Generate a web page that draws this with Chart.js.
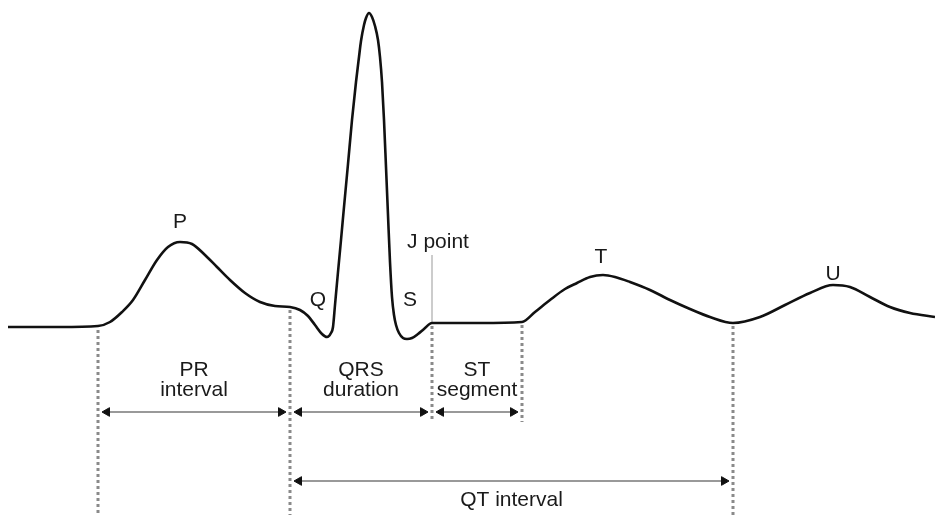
<!DOCTYPE html>
<html>
<head>
<meta charset="utf-8">
<script src="https://cdn.jsdelivr.net/npm/chart.js@4/dist/chart.umd.min.js"></script>
<style>
  html, body { margin: 0; padding: 0; background: #fff; }
  #wrap { width: 935px; height: 515px; }
</style>
</head>
<body>
<div id="wrap"><canvas id="ecgChart"></canvas></div>
<script>
// one heart beat (time, amplitude; baseline = 0)
const ecgTime = [8, 60, 98, 110, 122, 133, 145, 157, 168, 180, 192, 205, 217, 230, 245, 260, 275, 290,
  300, 308, 315, 322, 327, 331, 333, 335, 338, 341, 344, 348, 352, 356, 359, 361, 364, 366, 369,
  372, 375, 378, 380, 382, 384, 386, 388, 390, 392, 394, 396, 399, 403, 407, 412, 418, 424, 432,
  480, 522, 535, 550, 565, 577, 590, 603, 615, 630, 650, 670, 690, 710, 733, 760, 785, 810, 833,
  850, 870, 890, 910, 935];
const ecgAmp = [0, 0, 1, 5, 15, 27, 47, 67, 80, 85, 83, 72, 60, 47, 34, 25, 21, 20,
  17, 11, 2, -7, -10, -6, 0, 22, 55, 87, 120, 163, 207, 245, 270, 286, 302, 309, 314,
  310, 301, 287, 270, 245, 207, 160, 112, 65, 30, 12, 2, -6, -11, -12, -11, -7, -2, 4,
  4, 5, 15, 27, 38, 44, 50, 52, 50, 45, 37, 27, 18, 10, 4, 10, 22, 34, 42,
  40, 30, 20, 14, 10];

// wave labels
const waveNames = ["P", "Q", "S", "J point", "T", "U"];
const waveLabelAt = [[180, 105], [318, 27], [410, 27], [438, 85], [601, 70], [833, 53]];

// intervals: name, start, end, arrow level
const intervalNames = [["PR", "interval"], ["QRS", "duration"], ["ST", "segment"], ["QT interval"]];
const intervalStart = [98, 290, 432, 290];
const intervalEnd = [290, 432, 522, 733];
const intervalLevel = [-85, -85, -85, -154];

// dotted markers: x and how far down they go
const markerX = [98, 290, 432, 522, 733];
const markerTop = [-3, 17, 1, 2, 1];
const markerBottom = [-188, -188, -95, -95, -188];
const jPointX = 432;

const Y_MIN = -188, Y_MAX = 327;

const datasets = [];

datasets.push({
  label: "ECG",
  data: ecgTime.map((t, i) => ({ x: t, y: ecgAmp[i] })),
  borderColor: "#111",
  borderWidth: 2.6,
  pointRadius: 0,
  cubicInterpolationMode: "monotone",
  tension: 0.4,
  order: 0
});

markerX.forEach((x, i) => {
  datasets.push({
    label: "marker" + i,
    data: [{ x: x, y: markerTop[i] }, { x: x, y: markerBottom[i] }],
    borderColor: "#8a8a8a",
    borderWidth: 3,
    borderDash: [3, 3],
    pointRadius: 0,
    order: 2
  });
});

datasets.push({
  label: "jline",
  data: [{ x: jPointX, y: 4 }, { x: jPointX, y: 72 }],
  borderColor: "#aaa",
  borderWidth: 1.2,
  pointRadius: 0,
  order: 2
});

// arrow heads sit a few px inside the dotted markers
const HEAD = 5, GAP = 4;
intervalStart.forEach((s, i) => {
  datasets.push({
    label: "arrow" + i,
    data: [{ x: s + GAP + HEAD, y: intervalLevel[i] }, { x: intervalEnd[i] - GAP - HEAD, y: intervalLevel[i] }],
    borderColor: "#999",
    borderWidth: 2,
    pointStyle: "triangle",
    pointRadius: HEAD,
    pointRotation: [270, 90],
    pointBackgroundColor: "#111",
    pointBorderColor: "#111",
    pointBorderWidth: 1,
    order: 1
  });
});

// text labels drawn through the scales
const textPlugin = {
  id: "ecgText",
  afterDatasetsDraw(chart) {
    const ctx = chart.ctx;
    const xs = chart.scales.x, ys = chart.scales.y;
    ctx.save();
    ctx.fillStyle = "#1a1a1a";
    ctx.font = "21px 'Liberation Sans', Arial, sans-serif";
    ctx.textAlign = "center";
    ctx.textBaseline = "middle";
    waveNames.forEach((name, i) => {
      ctx.fillText(name, xs.getPixelForValue(waveLabelAt[i][0]), ys.getPixelForValue(waveLabelAt[i][1]));
    });
    intervalNames.forEach((lines, i) => {
      const cx = xs.getPixelForValue((intervalStart[i] + intervalEnd[i]) / 2);
      // keep the text between its two dotted markers
      const room = xs.getPixelForValue(intervalEnd[i]) - xs.getPixelForValue(intervalStart[i]) - 8;
      if (lines.length === 2) {
        const top = ys.getPixelForValue(intervalLevel[i]) - 42;
        ctx.fillText(lines[0], cx, top, room);
        ctx.fillText(lines[1], cx, top + 20, room);
      } else {
        ctx.fillText(lines[0], cx, ys.getPixelForValue(intervalLevel[i]) + 19);
      }
    });
    ctx.restore();
  }
};

new Chart("ecgChart", {
  type: "line",
  data: { datasets: datasets },
  options: {
    responsive: true,
    maintainAspectRatio: false,
    animation: false,
    layout: { padding: 0, autoPadding: false },
    plugins: { legend: { display: false }, tooltip: { enabled: false } },
    scales: {
      x: { type: "linear", min: 0, max: 935, display: false },
      y: { type: "linear", min: Y_MIN, max: Y_MAX, display: false }
    }
  },
  plugins: [textPlugin]
});
</script>
</body>
</html>
